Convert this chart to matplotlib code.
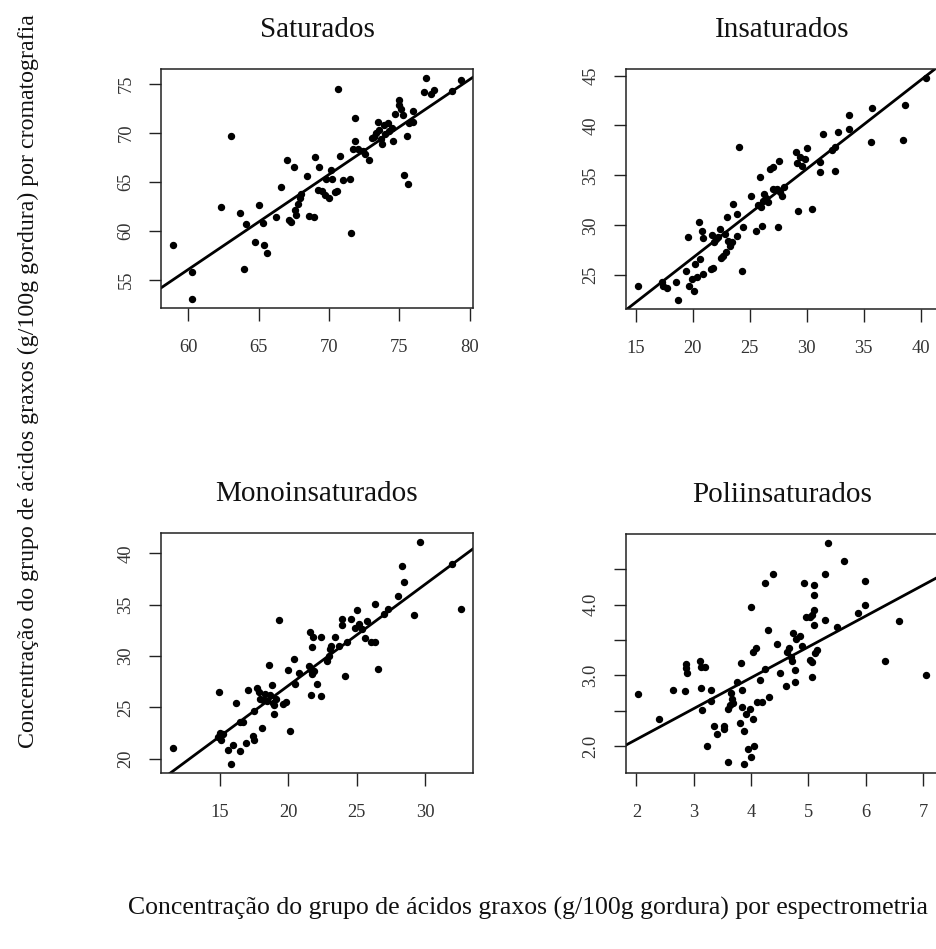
#!/usr/bin/env python3
"""Four scatter panels: fatty acid groups, chromatography vs spectrometry."""

import matplotlib

matplotlib.use("Agg")
import matplotlib.pyplot as plt  # type: ignore
import numpy as np  # type: ignore

# Saturados
sat_x = [58.87, 60.28, 60.28, 62.33, 62.99, 63.65, 63.95, 64.07, 64.7, 65.04,
         65.32, 65.34, 65.58, 66.24, 66.56, 66.99, 67.15, 67.32, 67.53, 67.55,
         67.62, 67.81, 67.93, 68.0, 68.4, 68.56, 68.92, 69.01, 69.25, 69.22,
         69.46, 69.69, 69.81, 70.0, 70.16, 70.24, 70.4, 70.56, 70.64, 70.8,
         70.99, 71.46, 71.53, 71.86, 71.86, 71.69, 72.05, 72.4, 72.52, 72.82,
         73.04, 73.22, 73.34, 73.46, 73.58, 73.69, 73.76, 73.88, 74.0, 74.16,
         74.28, 74.47, 74.56, 74.71, 74.99, 74.99, 75.11, 75.22, 75.36, 75.55,
         75.58, 75.69, 75.98, 75.98, 76.75, 76.87, 77.22, 77.46, 78.75, 79.41]
sat_y = [58.5, 55.8, 53.0, 62.45, 69.66, 61.84, 56.05, 60.71, 58.84, 62.59,
         60.82, 58.54, 57.72, 61.36, 64.49, 67.18, 61.12, 60.88, 66.53, 62.07,
         61.63, 62.72, 63.33, 63.7, 65.58, 61.53, 61.36, 67.48, 66.53, 64.18,
         64.01, 63.67, 65.31, 63.27, 66.22, 65.27, 63.98, 64.01, 74.49, 67.58,
         65.17, 65.31, 59.76, 71.53, 69.18, 68.27, 68.27, 68.1, 67.76, 67.18,
         69.46, 69.56, 69.97, 71.09, 70.31, 69.29, 68.84, 70.82, 69.9, 70.99,
         70.2, 70.48, 69.18, 71.94, 73.37, 72.86, 72.41, 71.84, 65.71, 69.66,
         64.8, 70.99, 72.18, 71.05, 74.15, 75.58, 73.95, 74.39, 74.22, 75.31]

# Insaturados
ins_x = [15.18, 17.3, 17.45, 17.74, 18.53, 18.76, 19.43, 19.58, 19.69, 19.99,
         20.16, 20.22, 20.36, 20.57, 20.66, 20.8, 20.95, 20.95, 21.62, 21.83,
         21.71, 21.88, 22.06, 22.26, 22.41, 22.47, 22.7, 22.85, 22.93, 23.05,
         23.14, 23.28, 23.43, 23.58, 23.87, 23.93, 24.07, 24.31, 24.45, 25.09,
         25.53, 25.76, 25.91, 26.0, 26.06, 26.14, 26.26, 26.41, 26.64, 26.79,
         27.02, 27.08, 27.43, 27.51, 27.57, 27.66, 27.81, 28.01, 29.06, 29.12,
         29.26, 29.41, 29.56, 29.85, 30.05, 30.49, 31.16, 31.16, 31.45, 32.18,
         32.47, 32.5, 32.76, 33.73, 33.73, 35.62, 35.74, 38.45, 38.6, 40.5]
ins_y = [23.86, 24.26, 23.93, 23.66, 24.33, 22.49, 25.43, 28.85, 23.86, 24.6,
         23.43, 26.1, 24.83, 30.35, 26.6, 29.45, 28.71, 25.1, 25.6, 25.7,
         29.05, 28.28, 28.61, 28.78, 29.62, 26.67, 26.94, 29.11, 27.27, 30.79,
         28.44, 27.94, 28.28, 32.12, 28.95, 31.12, 37.88, 25.43, 29.78, 32.96,
         29.45, 32.06, 34.8, 31.79, 29.88, 32.46, 33.13, 32.73, 32.29, 35.64,
         35.87, 33.63, 33.63, 29.78, 36.4, 33.29, 32.96, 33.8, 37.31, 36.24,
         31.45, 36.81, 35.97, 36.64, 37.74, 31.62, 35.3, 36.3, 39.15, 37.54,
         37.88, 35.47, 39.31, 41.05, 39.65, 38.38, 41.76, 38.55, 42.09, 44.77]

# Monoinsaturados
mono_x = [11.56, 14.95, 14.88, 15.0, 15.12, 15.24, 15.6, 15.85, 15.97, 16.16,
          16.45, 16.5, 16.69, 16.94, 17.06, 17.42, 17.49, 17.54, 17.71, 17.9,
          17.98, 18.07, 18.15, 18.31, 18.44, 18.58, 18.68, 18.82, 18.87, 18.94,
          18.99, 19.11, 19.36, 19.6, 19.84, 19.96, 20.15, 20.4, 20.49, 20.81,
          21.53, 21.61, 21.65, 21.7, 21.73, 21.77, 21.85, 21.9, 22.14, 22.38,
          22.38, 22.86, 22.98, 23.06, 23.15, 23.4, 23.71, 23.95, 23.95, 24.19,
          24.27, 24.56, 24.92, 25.04, 25.16, 25.4, 25.65, 25.77, 26.09, 26.33,
          26.33, 26.55, 26.98, 27.3, 28.03, 28.32, 28.43, 29.2, 29.64, 31.94,
          32.66]
mono_y = [21.06, 26.52, 22.16, 22.48, 21.84, 22.39, 20.87, 19.48, 21.35, 25.48,
          23.55, 20.77, 23.55, 21.52, 26.68, 22.26, 21.84, 24.65, 26.9, 26.52,
          25.87, 22.97, 25.71, 26.35, 25.61, 29.1, 26.19, 27.16, 25.45, 24.32,
          25.23, 25.81, 33.52, 25.29, 25.55, 28.61, 22.71, 29.68, 27.26, 28.39,
          29.0, 32.39, 28.68, 26.26, 30.87, 28.29, 31.84, 28.52, 27.32, 31.9,
          26.1, 29.48, 30.06, 30.71, 31.03, 31.9, 31.03, 33.61, 33.03, 28.06,
          31.35, 33.61, 32.71, 34.52, 33.13, 32.65, 31.77, 33.45, 31.35, 35.06,
          31.42, 28.77, 34.1, 34.58, 35.81, 38.77, 37.23, 34.0, 41.13, 38.94,
          34.58]

# Poliinsaturados
poli_x = [2.02, 2.39, 2.63, 2.85, 2.87, 2.87, 2.88, 3.11, 3.12, 3.12,
          3.2, 3.14, 3.24, 3.3, 3.31, 3.35, 3.41, 3.52, 3.53, 3.6,
          3.6, 3.63, 3.65, 3.66, 3.69, 3.75, 3.83, 3.84, 3.84, 3.81,
          3.87, 3.87, 3.91, 3.95, 3.98, 4.0, 4.0, 4.03, 4.03, 4.06,
          4.08, 4.11, 4.16, 4.19, 4.25, 4.25, 4.3, 4.32, 4.38, 4.46,
          4.51, 4.61, 4.63, 4.67, 4.7, 4.72, 4.74, 4.76, 4.76, 4.79,
          4.85, 4.89, 4.92, 4.96, 5.02, 5.03, 5.06, 5.07, 5.07, 5.1,
          5.1, 5.1, 5.1, 5.12, 5.15, 5.29, 5.29, 5.34, 5.5, 5.63,
          5.86, 5.98, 5.98, 6.33, 6.58, 7.06]
poli_y = [2.74, 2.39, 2.8, 2.78, 3.16, 3.1, 3.03, 3.2, 2.83, 3.12,
          3.12, 2.51, 2.0, 2.79, 2.64, 2.29, 2.17, 2.29, 2.24, 1.78,
          2.53, 2.58, 2.76, 2.67, 2.61, 2.91, 3.17, 2.8, 2.55, 2.33,
          2.22, 1.75, 2.46, 1.96, 2.53, 3.97, 1.85, 2.39, 3.33, 2.01,
          3.39, 2.62, 2.93, 2.62, 4.31, 3.09, 3.64, 2.7, 4.43, 3.45,
          3.04, 2.85, 3.33, 3.39, 3.26, 3.21, 3.6, 3.08, 2.91, 3.51,
          3.55, 3.41, 4.31, 3.82, 3.22, 3.83, 3.85, 2.98, 3.19, 3.71,
          3.93, 4.13, 4.27, 3.32, 3.36, 3.78, 4.43, 4.87, 3.69, 4.61,
          3.88, 4.33, 4.0, 3.21, 3.77, 3.0]

titles = ["Saturados", "Insaturados", "Monoinsaturados", "Poliinsaturados"]
intercepts = [-2.10, 8.87, 7.35, 1.228]
slopes = [0.969, 0.892, 0.988, 0.435]
xticks = [[60, 65, 70, 75, 80], [15, 20, 25, 30, 35, 40],
          [15, 20, 25, 30], [2, 3, 4, 5, 6, 7]]
yticks = [[55, 60, 65, 70, 75], [25, 30, 35, 40, 45],
          [20, 25, 30, 35, 40], [2.0, 2.5, 3.0, 3.5, 4.0, 4.5]]
ytick_labels = [None, None, None, ["2.0", "", "3.0", "", "4.0", ""]]

W, H = 936, 949
# panel boxes in pixels: left, right, top, bottom
boxes = [(161, 473, 69, 308), (626, 938, 69, 309),
         (161, 473, 533, 773), (626, 938, 534, 773)]

plt.rcParams["font.family"] = ["Liberation Serif", "DejaVu Serif"]
fig = plt.figure(figsize=(W / 100, H / 100), dpi=100)

data = [(sat_x, sat_y), (ins_x, ins_y), (mono_x, mono_y), (poli_x, poli_y)]
for i, (xs, ys) in enumerate(data):
    left, right, top, bottom = boxes[i]
    ax = fig.add_axes([left / W, 1 - bottom / H, (right - left) / W,
                       (bottom - top) / H])
    xs = np.array(xs)
    ys = np.array(ys)
    # R style 4% padding around data range
    xr = xs.max() - xs.min()
    yr = ys.max() - ys.min()
    xlim = (xs.min() - 0.04 * xr, xs.max() + 0.04 * xr)
    ylim = (ys.min() - 0.04 * yr, ys.max() + 0.04 * yr)
    ax.plot(xs, ys, linestyle="none", marker="o", markersize=4.3,
            color="black")
    line_x = np.array(xlim)
    ax.plot(line_x, intercepts[i] + slopes[i] * line_x, color="black",
            linewidth=2.0)
    ax.set_xticks(xticks[i])
    ax.set_yticks(yticks[i])
    if ytick_labels[i] is not None:
        ax.set_yticklabels(ytick_labels[i])
    ax.set_xlim(xlim)
    ax.set_ylim(ylim)
    ax.tick_params(direction="out", length=9, width=1.0, color="#222222",
                   labelsize=13.3, labelcolor="#333333")
    ax.tick_params(axis="x", pad=13)
    ax.tick_params(axis="y", pad=10)
    for lab in ax.get_yticklabels():
        lab.set_rotation(90)
        lab.set_verticalalignment("center")
    for spine in ax.spines.values():
        spine.set_linewidth(1.1)
        spine.set_color("#222222")
    ax.set_title(titles[i], fontsize=21, pad=23, color="#111111")

fig.text(528 / W, 1 - 908 / H,
         "Concentração do grupo de ácidos graxos (g/100g gordura) por espectrometria",
         ha="center", va="center", fontsize=18.5, color="#111111")
fig.text(28 / W, 1 - 381 / H,
         "Concentração do grupo de ácidos graxos (g/100g gordura) por cromatografia",
         ha="center", va="center", rotation=90, fontsize=17.2, color="#111111")

fig.savefig("out.png", dpi=100)
